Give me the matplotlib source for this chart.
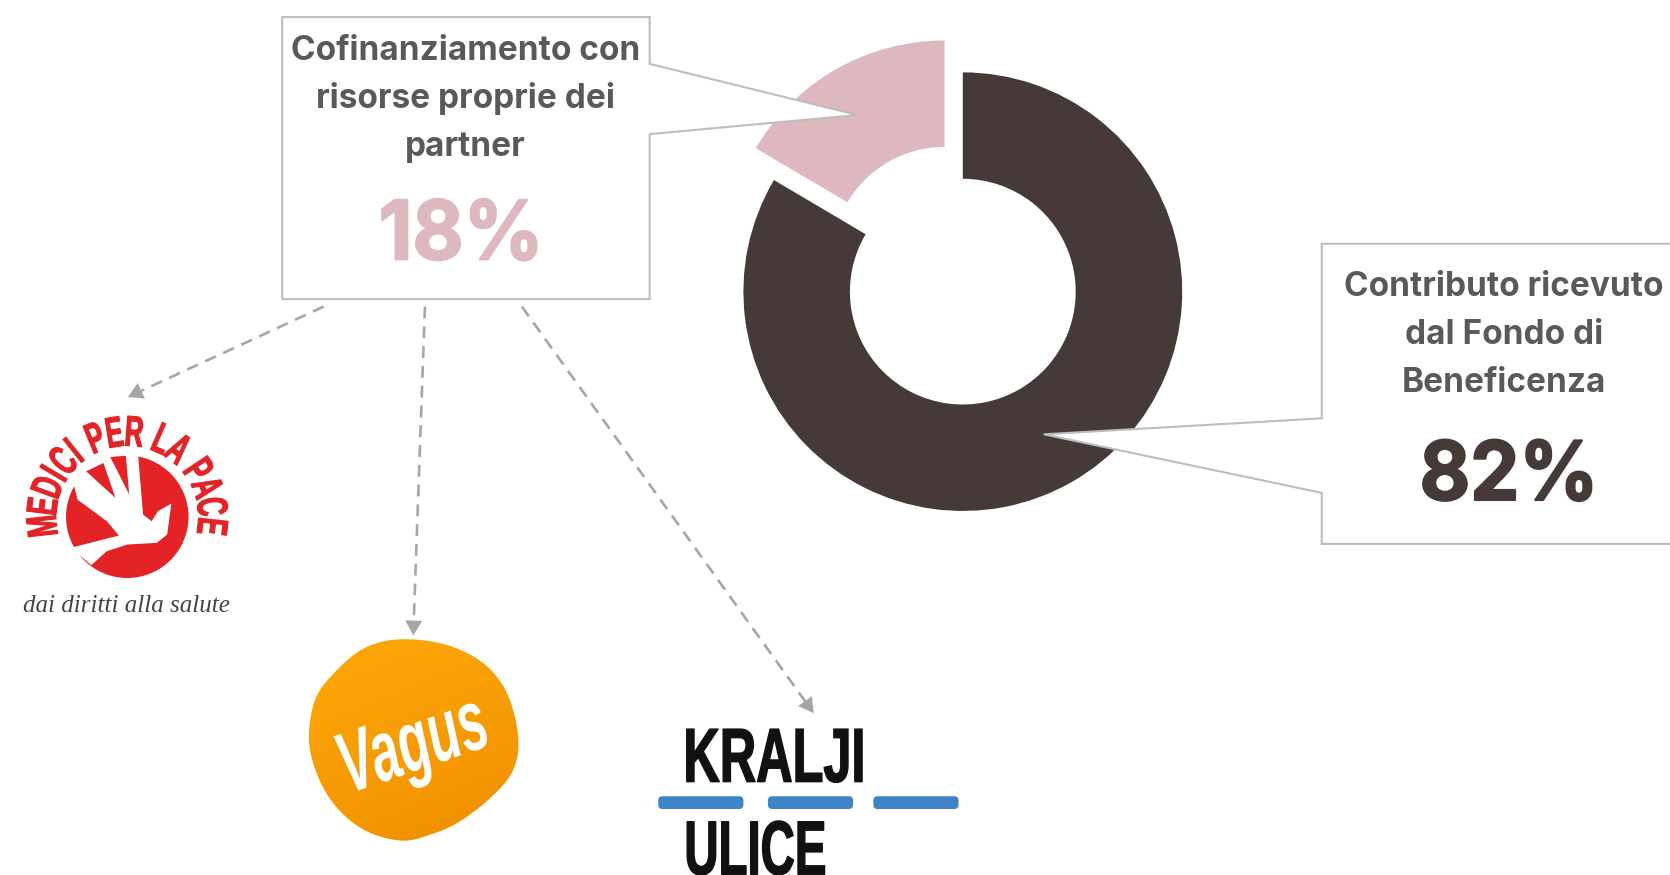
import numpy as np
import matplotlib
matplotlib.use('Agg')
import matplotlib.pyplot as plt
import matplotlib.patheffects as pe
from matplotlib.colors import LinearSegmentedColormap
from matplotlib.patches import Polygon, Circle, FancyBboxPatch
from matplotlib.transforms import Affine2D

# Data
shares = [83.5, 16.5]
slice_colors = ['#453a37', '#deb8bf']
box_left_lines = ['Cofinanziamento con', 'risorse proprie dei', 'partner']
box_right_lines = ['Contributo ricevuto', 'dal Fondo di', 'Beneficenza']
box_left_value = '18%'
box_right_value = '82%'
medici_top = 'MEDICI PER LA PACE'
medici_tag = 'dai diritti alla salute'

W, H = 1568, 822
TXT = '#595959'
EDGE = '#bdbdbd'
ARROW = '#a6a6a6'
FONT = 'Inter'


def Y(y):
    return H - y


def zoom_xy(pts):
    return [(x / 3.09, Y(y / 3.2 + 375.6)) for x, y in pts]


def smooth_loop(pts, n=12):
    p = np.array(pts, float)
    out = []
    for i in range(len(p)):
        p0, p1, p2, p3 = p[i - 1], p[i], p[(i + 1) % len(p)], p[(i + 2) % len(p)]
        for t in np.linspace(0, 1, n, endpoint=False):
            out.append(0.5 * (2 * p1 + (p2 - p0) * t + (2 * p0 - 5 * p1 + 4 * p2 - p3) * t ** 2
                              + (3 * p1 - p0 - 3 * p2 + p3) * t ** 3))
    return np.array(out)


class Squeeze(pe.AbstractPathEffect):
    # condensed look for logo lettering, no narrow font is installed
    def __init__(self, sx, lw=0.0):
        super().__init__()
        self.sx = sx
        self.lw = lw

    def draw_path(self, renderer, gc, tpath, affine, rgbFace=None):
        ext = tpath.get_extents()
        cx = (ext.x0 + ext.x1) / 2
        t = Affine2D().translate(-cx, 0).scale(self.sx, 1).translate(cx, 0) + affine
        gc0 = renderer.new_gc()
        gc0.copy_properties(gc)
        gc0.set_linewidth(self.lw)
        gc0.set_foreground(rgbFace)
        renderer.draw_path(gc0, tpath, t, rgbFace)
        gc0.restore()


fig = plt.figure(figsize=(16.7, 8.75), dpi=100)
ax = fig.add_axes([0, 0, 1, 1])

# Donut
wedges, _ = ax.pie(shares, colors=slice_colors, startangle=90, counterclock=False,
                   center=(904, Y(274)), radius=206, explode=[0, 34.5],
                   wedgeprops=dict(width=100, linewidth=0))
ax.set_xlim(0, W)
ax.set_ylim(0, H)
ax.set_aspect('equal')
ax.axis('off')

# Callouts
left_box = [(265, 16), (610, 16), (610, 60), (805, 108), (610, 126), (610, 281), (265, 281)]
right_box = [(1241, 229), (1575, 229), (1575, 511), (1241, 511), (1241, 463), (980, 408), (1241, 393)]
for pts in (left_box, right_box):
    ax.add_patch(Polygon([(x, Y(y)) for x, y in pts], closed=True, facecolor='white',
                         edgecolor=EDGE, linewidth=1.5, zorder=3))

for line, y in zip(box_left_lines, [48, 93, 138]):
    ax.text(437, Y(y), line, ha='center', va='center', fontsize=24, color=TXT,
            family=FONT, weight='bold', zorder=4)
ax.text(433, Y(224), box_left_value, ha='center', va='center', fontsize=59, color=slice_colors[1],
        family=FONT, weight='bold', zorder=4, path_effects=[Squeeze(0.96, 1.5)])
for line, y in zip(box_right_lines, [270, 315, 360]):
    ax.text(1412, Y(y), line, ha='center', va='center', fontsize=24, color=TXT,
            family=FONT, weight='bold', zorder=4)
ax.text(1417, Y(450), box_right_value, ha='center', va='center', fontsize=59, color=slice_colors[0],
        family=FONT, weight='bold', zorder=4, path_effects=[Squeeze(0.95, 1.5)])

# Dashed arrows
arrows = [((304, 288), (120, 373)), ((399, 288), (388, 597)), ((490, 288), (764, 670))]
for start, end in arrows:
    v = np.array(end, float) - np.array(start, float)
    base = np.array(end, float) - v / np.hypot(*v) * 14
    ax.plot([start[0], base[0]], [Y(start[1]), Y(base[1])], color=ARROW, lw=1.9,
            dashes=(4.5, 3), zorder=2)
    n = np.array([-v[1], v[0]]) / np.hypot(*v) * 8
    tri = [end, base + n, base - n]
    ax.add_patch(Polygon([(x, Y(y)) for x, y in tri], facecolor=ARROW, edgecolor='none', zorder=2))

# Medici per la Pace logo
RED = '#e32326'
cx, cy = 119.5, 485.5
ax.add_patch(Circle((cx, Y(cy)), 57.5, facecolor=RED, edgecolor='none', zorder=2))
hand = [(265, 497), (310, 455), (370, 435), (455, 430), (485, 405), (497, 312), (458, 335), (440, 365),
        (415, 345), (400, 160), (340, 155), (250, 190), (210, 240), (225, 300), (310, 365), (345, 408),
        (205, 445)]
ax.add_patch(Polygon(zoom_xy(hand), facecolor='white', edgecolor='none', zorder=2.2))
for wedge_pts in ([(250, 215), (300, 190), (335, 295)], [(320, 172), (365, 168), (375, 285)]):
    ax.add_patch(Polygon(zoom_xy(wedge_pts), facecolor=RED, edgecolor='none', zorder=2.3))

steps = [0.55 if c == 'I' else 0.45 if c == ' ' else 1.0 for c in medici_top]
pos = np.cumsum(steps) - np.array(steps) / 2
angles = -103 + 206 * pos / sum(steps)
for ch, a in zip(medici_top, angles):
    if ch == ' ':
        continue
    x = cx + 77 * np.sin(np.radians(a))
    y = cy - 77 * np.cos(np.radians(a))
    ax.text(x, Y(y), ch, rotation=-a, rotation_mode='anchor', ha='center', va='center', fontsize=31,
            color=RED, family='Liberation Sans', weight='bold', zorder=2,
            path_effects=[Squeeze(0.6, 0.8)])
ax.text(119, Y(569), medici_tag, ha='center', va='center', fontsize=18, style='italic',
        color='#444444', family='Liberation Serif', zorder=2)

# Vagus logo
blob = [(1160, 720), (1290, 735), (1400, 790), (1470, 880), (1503, 1010), (1490, 1110), (1430, 1190),
        (1330, 1270), (1240, 1310), (1165, 1325), (1070, 1300), (990, 1240), (930, 1150), (897, 1030),
        (915, 900), (980, 810), (1060, 745)]
outline = smooth_loop(zoom_xy(blob))
bx, by = outline[:, 0], outline[:, 1]
grad = np.linspace(0, 1, 200)[:, None] * 0.7 + np.linspace(0, 1, 200)[None, :] * 0.3
cmap = LinearSegmentedColormap.from_list('vagus', ['#fea90a', '#ef8f00'])
im = ax.imshow(grad, extent=(bx.min(), bx.max(), by.min(), by.max()), cmap=cmap, origin='upper',
               aspect='auto', zorder=2)
clip = Polygon(outline, closed=True, facecolor='none', edgecolor='none', transform=ax.transData)
ax.add_patch(clip)
im.set_clip_path(clip)
ax.set_xlim(0, W)
ax.set_ylim(0, H)
ax.text(388, Y(703), 'Vagus', rotation=19, rotation_mode='anchor', ha='center', va='center', fontsize=62,
        color='white', family='Liberation Sans', style='italic', weight='bold', zorder=3,
        path_effects=[Squeeze(0.6)])

# Kralji Ulice logo
ax.text(727, Y(716), 'KRALJI', ha='center', va='center', fontsize=55, color='#111111',
        family='Liberation Sans', weight='bold', zorder=2, path_effects=[Squeeze(0.66, 1.0)])
ax.text(709, Y(803), 'ULICE', ha='center', va='center', fontsize=55, color='#111111',
        family='Liberation Sans', weight='bold', zorder=2, path_effects=[Squeeze(0.62, 1.0)])
for x0, x1 in [(618, 698), (721, 801), (820, 900)]:
    ax.add_patch(FancyBboxPatch((x0 + 4, Y(754) - 2), x1 - x0 - 8, 4, boxstyle='round,pad=4',
                                facecolor='#3f84c6', edgecolor='none', zorder=2))

plt.savefig('out.png', dpi=100)
plt.close()
